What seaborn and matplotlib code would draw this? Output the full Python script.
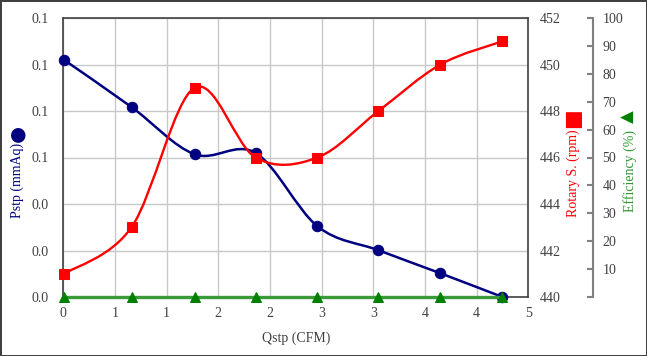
import numpy as np
import pandas as pd
import matplotlib
matplotlib.use("Agg")
import matplotlib.pyplot as plt
from matplotlib.path import Path
from matplotlib.patches import PathPatch
import seaborn as sns

# ---- data ----
qstp = [0.01, 0.66, 1.27, 1.86, 2.46, 3.05, 3.65, 4.25]
pstp = [0.1019, 0.0817, 0.0614, 0.0620, 0.0304, 0.0201, 0.0102, 0.0]
rotary = [441, 443, 449, 446, 446, 448, 450, 451]
efficiency = [0, 0, 0, 0, 0, 0, 0, 0]

x_ticks = [0, 0.5, 1.0, 1.5, 2.0, 2.5, 3.0, 3.5, 4.0, 4.5]
x_tick_labels = ['0', '1', '1', '2', '2', '3', '3', '4', '4', '5']
p_ticks = [0.0, 0.02, 0.04, 0.06, 0.08, 0.10, 0.12]
p_tick_labels = ['0.0', '0.0', '0.0', '0.1', '0.1', '0.1', '0.1']
r_ticks = [440, 442, 444, 446, 448, 450, 452]
r_tick_labels = ['440', '442', '444', '446', '448', '450', '452']
e_ticks = [0, 10, 20, 30, 40, 50, 60, 70, 80, 90, 100]
e_tick_labels = ['', '10', '20', '30', '40', '50', '60', '70', '80', '90', '100']

df = pd.DataFrame({'Qstp': qstp, 'Pstp': pstp, 'Rotary': rotary, 'Eff': efficiency})

sns.set_theme(style='white')
plt.rcParams['font.family'] = ['Liberation Serif', 'DejaVu Sans']
plt.rcParams['font.size'] = 10

NAVY = '#000080'
RED = '#ff0000'
GREEN = '#008000'
GRAY = '#404040'


def smooth_path(xs, ys):
    """Bezier (Catmull-Rom style) path through the given data points."""
    xs = np.asarray(xs, float)
    ys = np.asarray(ys, float)
    n = len(xs)
    verts = [(xs[0], ys[0])]
    codes = [Path.MOVETO]
    for i in range(n - 1):
        i0 = max(i - 1, 0)
        i3 = min(i + 2, n - 1)
        c1 = (xs[i] + (xs[i + 1] - xs[i0]) / 6.0, ys[i] + (ys[i + 1] - ys[i0]) / 6.0)
        c2 = (xs[i + 1] - (xs[i3] - xs[i]) / 6.0, ys[i + 1] - (ys[i3] - ys[i]) / 6.0)
        verts += [c1, c2, (xs[i + 1], ys[i + 1])]
        codes += [Path.CURVE4] * 3
    return Path(verts, codes)


fig = plt.figure(figsize=(6.47, 3.56), dpi=100, edgecolor=GRAY, linewidth=2)
ax = fig.add_axes([63.3 / 647, 1 - 297 / 356, 465 / 647, 279 / 356])
ax2 = ax.twinx()
ax3 = ax.twinx()

# --- primary axis (Pstp) ---
ax.set_xlim(0, 4.5)
ax.set_ylim(0, 0.12)
ax.set_xticks(x_ticks)
ax.set_xticklabels(x_tick_labels)
ax.set_yticks(p_ticks)
ax.set_yticklabels(p_tick_labels)
ax.grid(True, color='#c8c8c8', linewidth=1.0)
ax.set_axisbelow(True)
for s in ax.spines.values():
    s.set_color(GRAY)
    s.set_linewidth(1.2)
ax.tick_params(axis='both', length=0, colors=GRAY, labelsize=10)
ax.tick_params(axis='y', pad=10.5)
ax.tick_params(axis='x', pad=7)

ax.add_patch(PathPatch(smooth_path(df['Qstp'], df['Pstp']), fill=False,
                       edgecolor=NAVY, linewidth=1.8, zorder=3))
sns.lineplot(data=df, x='Qstp', y='Pstp', ax=ax, linestyle='', marker='o',
             markersize=7.5, color=NAVY, markeredgecolor=NAVY, zorder=4,
             clip_on=False)
ax.set_xlabel('')
ax.set_ylabel('')

# --- secondary axis (Rotary speed) ---
ax2.set_ylim(440, 452)
ax2.set_yticks(r_ticks)
ax2.set_yticklabels(r_tick_labels)
ax2.tick_params(axis='y', length=0, colors=GRAY, labelsize=10, pad=8.5)
for s in ax2.spines.values():
    s.set_visible(False)
ax2.add_patch(PathPatch(smooth_path(df['Qstp'], df['Rotary']), fill=False,
                        edgecolor=RED, linewidth=1.7, zorder=3))
sns.lineplot(data=df, x='Qstp', y='Rotary', ax=ax2, linestyle='', marker='s',
             markersize=7.5, color=RED, markeredgecolor=RED, zorder=4,
             clip_on=False)
ax2.set_xlabel('')
ax2.set_ylabel('')

# --- third axis (Efficiency) ---
ax3.set_ylim(0, 100)
ax3.set_yticks(e_ticks)
ax3.set_yticklabels(e_tick_labels)
for name, s in ax3.spines.items():
    s.set_visible(name == 'right')
ax3.spines['right'].set_position(('axes', (592.7 - 63.3) / 465))
ax3.spines['right'].set_color('#808080')
ax3.spines['right'].set_linewidth(1.5)
ax3.tick_params(axis='y', direction='in', length=4, width=1.5,
                color='#808080', labelcolor=GRAY, labelsize=10, pad=7)
sns.lineplot(data=df, x='Qstp', y='Eff', ax=ax3, color='#3a9a3a',
             linewidth=2.4, zorder=3, clip_on=False)
sns.lineplot(data=df, x='Qstp', y='Eff', ax=ax3, linestyle='', marker='^',
             markersize=7.5, color=GREEN, markeredgecolor=GREEN, zorder=4,
             clip_on=False)
ax3.set_xlabel('')
ax3.set_ylabel('')

# --- axis titles with marker glyphs ---
fig.text(296 / 647, 1 - 338 / 356, 'Qstp (CFM)', ha='center', va='center',
         color=GRAY, fontsize=10)
fig.text(17 / 647, 1 - 180 / 356, 'Pstp (mmAq)', rotation=90, ha='center',
         va='center', color=NAVY, fontsize=10)
fig.text(17 / 647, 1 - 133 / 356, '\u25cf', rotation=90, ha='center',
         va='center', color=NAVY, fontsize=14, family=['DejaVu Sans'])
fig.text(573 / 647, 1 - 173 / 356, 'Rotary S. (rpm)', rotation=90, ha='center',
         va='center', color=RED, fontsize=10)
fig.text(572 / 647, 1 - 118 / 356, '\u25a0', rotation=90, ha='center',
         va='center', color=RED, fontsize=15, family=['DejaVu Sans'])
fig.text(630 / 647, 1 - 171 / 356, 'Efficiency (%)', rotation=90, ha='center',
         va='center', color='#2e9a2e', fontsize=10)
fig.text(628 / 647, 1 - 117 / 356, '\u25b2', rotation=90, ha='center',
         va='center', color=GREEN, fontsize=12, family=['DejaVu Sans'])

fig.savefig('out.png', dpi=100, edgecolor=fig.get_edgecolor(),
            facecolor='white')
